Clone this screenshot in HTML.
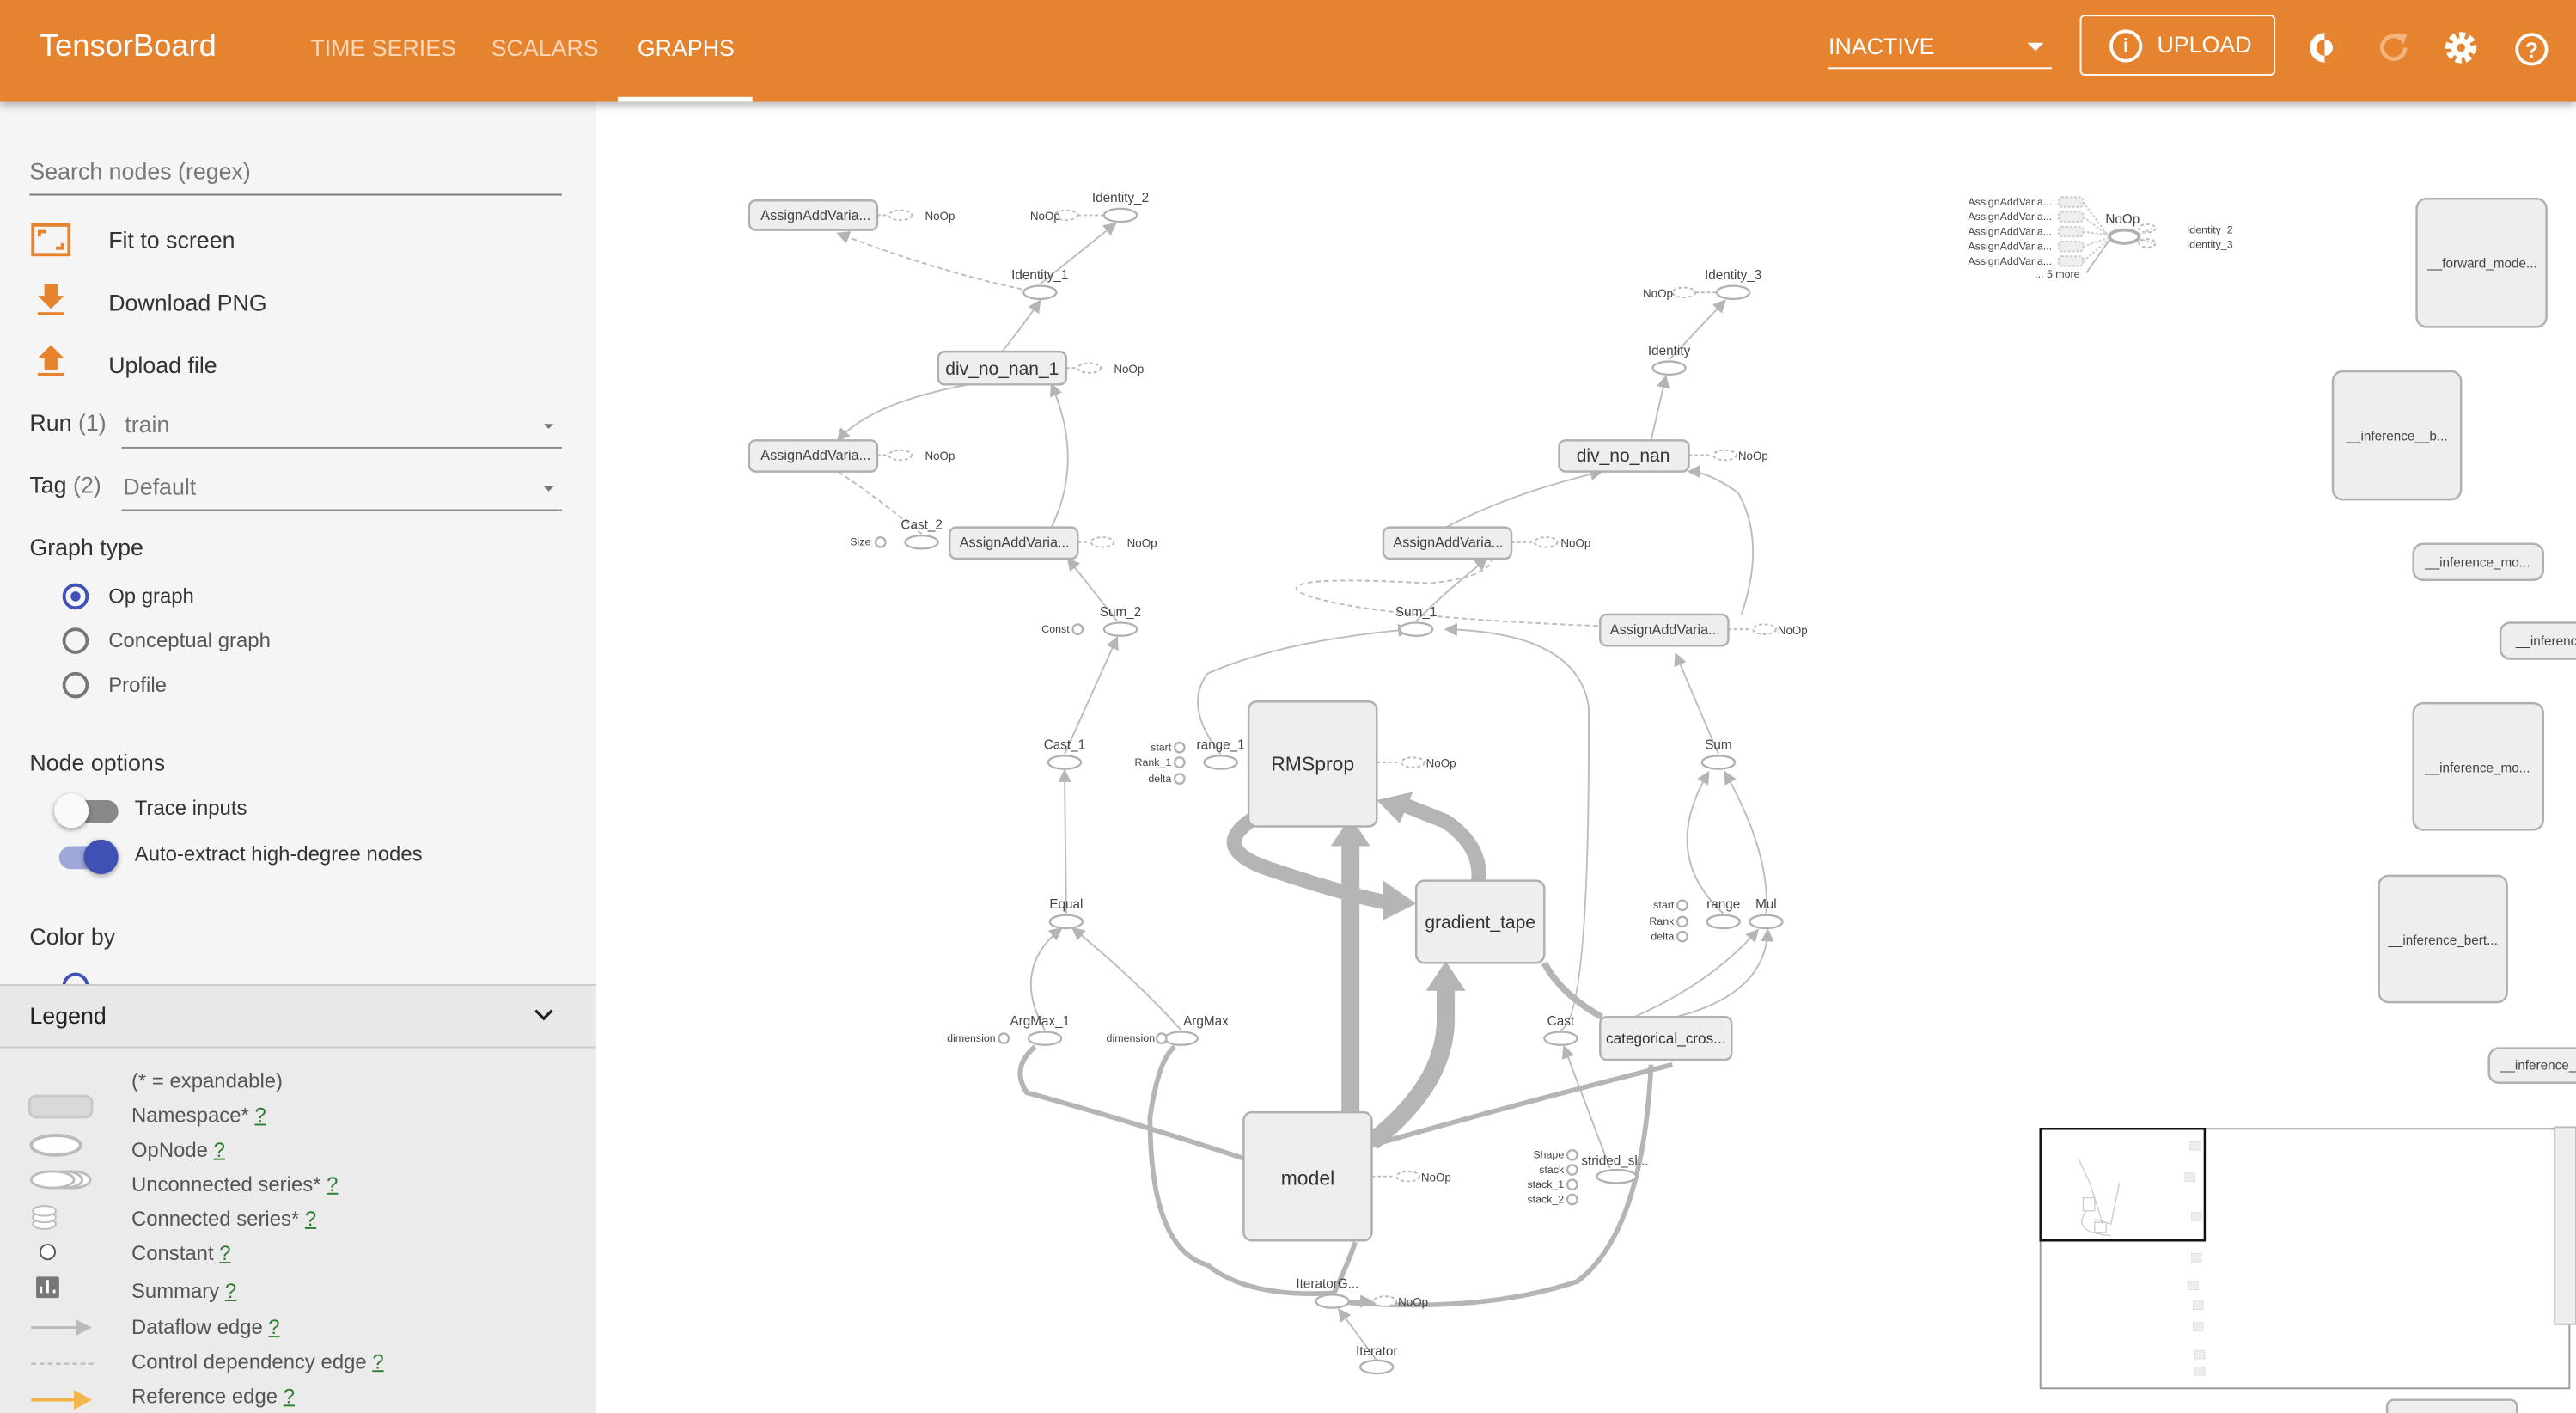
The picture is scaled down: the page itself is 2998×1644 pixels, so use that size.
<!DOCTYPE html>
<html><head><meta charset="utf-8">
<style>
*{margin:0;padding:0;box-sizing:border-box}
html,body{width:2998px;height:1644px;overflow:hidden;background:#fff;font-family:"Liberation Sans",sans-serif}
#p{position:absolute;left:0;top:0;width:1568px;height:860px;transform:scale(1.912,1.9116);transform-origin:0 0;overflow:hidden}
.a{position:absolute;white-space:nowrap}
#hdr{position:absolute;left:0;top:0;width:1568px;height:62px;background:#e5832f;box-shadow:0 2px 5px rgba(0,0,0,.3);z-index:3}
#side{position:absolute;left:0;top:62px;width:363px;height:798px;background:#f5f5f5}
.t{color:#333;font-size:14px}
.g{color:#777;font-size:14px}
.rad{position:absolute;width:16px;height:16px;border:2px solid #777;border-radius:50%}
.q{color:#2e7d32;text-decoration:underline}
</style></head><body><div id="p">
<div id="hdr">
<div class="a" style="left:24px;top:18px;font-size:19px;color:#fff">TensorBoard</div>
<div class="a" style="left:189px;top:21px;font-size:14px;color:#fbd8b9">TIME SERIES</div>
<div class="a" style="left:299px;top:21px;font-size:14px;color:#fbd8b9">SCALARS</div>
<div class="a" style="left:388px;top:21px;font-size:14px;color:#fff">GRAPHS</div>
<div class="a" style="left:376px;top:59px;width:82px;height:3px;background:#fff"></div>
<div class="a" style="left:1113px;top:20px;font-size:14px;color:#fff">INACTIVE</div>
<div class="a" style="left:1113px;top:41px;width:136px;height:1px;background:#fff"></div>
<div class="a" style="left:1234px;top:26px;border-left:5px solid transparent;border-right:5px solid transparent;border-top:5px solid #fff"></div>
<div class="a" style="left:1266px;top:9px;width:119px;height:37px;border:1px solid #fff;border-radius:3px"></div>
<div class="a" style="left:1284px;top:18px;width:20px;height:20px;border:2px solid #fff;border-radius:50%;color:#fff;font-size:12px;text-align:center;line-height:16px;font-weight:bold">i</div>
<div class="a" style="left:1313px;top:19px;font-size:14px;color:#fff">UPLOAD</div>
<svg class="a" style="left:1400px;top:14px" width="160" height="32" viewBox="0 0 160 32">
<circle cx="15" cy="15" r="9" fill="#fff"/><path d="M15 6a9 9 0 0 1 0 18z" fill="#e5832f"/><circle cx="15" cy="15" r="5" fill="#e5832f"/><path d="M15 10a5 5 0 0 1 0 10z" fill="#fff"/>
<path d="M64 15a7 7 0 1 1-2-5" fill="none" stroke="#f3b37c" stroke-width="2.5"/><path d="M59 6l6 1-2 6z" fill="#f3b37c"/>
<circle cx="98" cy="15" r="7" fill="none" stroke="#fff" stroke-width="5" stroke-dasharray="3.3 2"/><circle cx="98" cy="15" r="6" fill="#fff"/><circle cx="98" cy="15" r="2.5" fill="#e5832f"/>
<circle cx="141" cy="16" r="9" fill="none" stroke="#fff" stroke-width="2"/><text x="141" y="21" font-size="13" fill="#fff" text-anchor="middle" font-weight="bold" font-family="Liberation Sans">?</text>
</svg>
</div>
<div id="side">
<div class="a g" style="left:18px;top:34px">Search nodes (regex)</div>
<div class="a" style="left:18px;top:56px;width:324px;height:1px;background:#777"></div>
<svg class="a" style="left:18px;top:73px" width="28" height="160">
<rect x="2" y="2" width="22" height="18" fill="none" stroke="#e5832f" stroke-width="2"/><path d="M6 9V6h4M20 13v3h-4" fill="none" stroke="#e5832f" stroke-width="2"/>
<path d="M9 38h8v7h4l-8 8-8-8h4z" fill="#e5832f"/><rect x="5" y="55" width="16" height="2" fill="#e5832f"/>
<path d="M9 90h8v-7h4l-8-8-8 8h4z" fill="#e5832f"/><rect x="5" y="92" width="16" height="2" fill="#e5832f"/>
</svg>
<div class="a t" style="left:66px;top:76px">Fit to screen</div>
<div class="a t" style="left:66px;top:114px">Download PNG</div>
<div class="a t" style="left:66px;top:152px">Upload file</div>
<div class="a t" style="left:18px;top:187px">Run <span style="color:#777">(1)</span></div>
<div class="a g" style="left:76px;top:188px">train</div>
<div class="a" style="left:331px;top:196px;border-left:3px solid transparent;border-right:3px solid transparent;border-top:3px solid #777"></div>
<div class="a" style="left:74px;top:210px;width:268px;height:1px;background:#888"></div>
<div class="a t" style="left:18px;top:225px">Tag <span style="color:#777">(2)</span></div>
<div class="a g" style="left:75px;top:226px">Default</div>
<div class="a" style="left:331px;top:234px;border-left:3px solid transparent;border-right:3px solid transparent;border-top:3px solid #777"></div>
<div class="a" style="left:74px;top:248px;width:268px;height:1px;background:#888"></div>
<div class="a t" style="left:18px;top:263px">Graph type</div>
<div class="rad" style="left:38px;top:293px;border-color:#3f51b5"></div><div class="a" style="left:43px;top:298px;width:6px;height:6px;border-radius:50%;background:#3f51b5"></div>
<div class="a" style="left:66px;top:294px;font-size:12.5px;color:#333">Op graph</div>
<div class="rad" style="left:38px;top:320px"></div><div class="a" style="left:66px;top:321px;font-size:12.5px;color:#555">Conceptual graph</div>
<div class="rad" style="left:38px;top:347px"></div><div class="a" style="left:66px;top:348px;font-size:12.5px;color:#555">Profile</div>
<div class="a t" style="left:18px;top:394px">Node options</div>
<div class="a" style="left:36px;top:425px;width:36px;height:14px;border-radius:7px;background:#888"></div>
<div class="a" style="left:33px;top:421px;width:21px;height:21px;border-radius:50%;background:#fafafa;box-shadow:0 1px 3px rgba(0,0,0,.4)"></div>
<div class="a" style="left:82px;top:423px;font-size:12.5px;color:#333">Trace inputs</div>
<div class="a" style="left:36px;top:453px;width:36px;height:14px;border-radius:7px;background:#9fa8da"></div>
<div class="a" style="left:51px;top:449px;width:21px;height:21px;border-radius:50%;background:#3f51b5;box-shadow:0 1px 3px rgba(0,0,0,.4)"></div>
<div class="a" style="left:82px;top:451px;font-size:12.5px;color:#333">Auto-extract high-degree nodes</div>
<div class="a t" style="left:18px;top:500px">Color by</div>
<div class="rad" style="left:38px;top:530px;border-color:#3f51b5"></div>
<div class="a" style="left:0;top:537px;width:363px;height:261px;background:#ebebeb"></div>
<div class="a" style="left:0;top:537px;width:363px;height:39px;background:#e8e8e8;border-top:1px solid #ccc;border-bottom:1px solid #ccc"></div>
<div class="a" style="left:18px;top:548px;font-size:14px;color:#222">Legend</div>
<svg class="a" style="left:324px;top:551px" width="14" height="10"><path d="M2 2l5 5 5-5" fill="none" stroke="#222" stroke-width="1.7"/></svg>
<div class="a" style="left:80px;top:586px;font-size:12.5px;color:#555;line-height:21px">(* = expandable)<br>Namespace* <span class="q">?</span><br>OpNode <span class="q">?</span><br>Unconnected series* <span class="q">?</span><br>Connected series* <span class="q">?</span><br>Constant <span class="q">?</span><br><span style="line-height:24px">Summary <span class="q">?</span></span><br>Dataflow edge <span class="q">?</span><br>Control dependency edge <span class="q">?</span><br>Reference edge <span class="q">?</span></div>
<svg class="a" style="left:15px;top:600px" width="45" height="198">
<rect x="3" y="5" width="38" height="13" rx="4" fill="#d9d9d9" stroke="#c8c8c8" stroke-width="1.5"/>
<ellipse cx="19" cy="35" rx="15" ry="6" fill="#fff" stroke="#bbb" stroke-width="2"/>
<ellipse cx="29" cy="56" rx="11" ry="5" fill="#fff" stroke="#bbb" stroke-width="1.5"/><ellipse cx="24" cy="56" rx="11" ry="5" fill="#fff" stroke="#bbb" stroke-width="1.5"/><ellipse cx="17" cy="56" rx="13" ry="5" fill="#fff" stroke="#bbb" stroke-width="1.5"/>
<ellipse cx="12" cy="83" rx="7" ry="3" fill="#fff" stroke="#bbb"/><ellipse cx="12" cy="79" rx="7" ry="3" fill="#fff" stroke="#bbb"/><ellipse cx="12" cy="75" rx="7" ry="3" fill="#fff" stroke="#bbb"/>
<circle cx="14" cy="100" r="4.5" fill="#fff" stroke="#555"/>
<rect x="7" y="115" width="14" height="13" rx="1" fill="#777"/><path d="M10 125v-4M14 125v-8M18 125v-2" stroke="#fff" stroke-width="1.5"/>
<path d="M4 146h30" stroke="#bbb" stroke-width="1.5"/><path d="M31 141l10 5-10 5z" fill="#bbb"/>
<path d="M4 168h38" stroke="#bbb" stroke-width="1.2" stroke-dasharray="3 2"/>
<path d="M4 190h30" stroke="#f4b54a" stroke-width="2"/><path d="M30 184l11 6-11 6z" fill="#f4b54a"/>
</svg>
</div>
<svg class="a" style="left:0;top:0" width="1568" height="860" viewBox="0 0 1568 860" font-family="Liberation Sans">
<defs><marker id="ar" markerWidth="8" markerHeight="8" refX="7" refY="4" orient="auto" markerUnits="userSpaceOnUse"><path d="M0 0L8 4L0 8z" fill="#b5b5b5"/></marker></defs>
<g fill="none" stroke="#bcbcbc" stroke-width="1">
<path d="M633 173L679 136" marker-end="url(#ar)"/>
<path d="M622 176Q570 165 510 142" stroke-dasharray="3 2" marker-end="url(#ar)"/>
<path d="M610 214Q625 195 633 183" marker-end="url(#ar)"/>
<path d="M590 234Q530 245 510 268" marker-end="url(#ar)"/>
<path d="M640 321Q660 280 640 234" marker-end="url(#ar)"/>
<path d="M561 325Q530 300 510 287" stroke-dasharray="3 2"/>
<path d="M680 378L650 340" marker-end="url(#ar)"/>
<path d="M648 459L680 388" marker-end="url(#ar)"/>
<path d="M649 556L648 469" marker-end="url(#ar)"/>
<path d="M636 627Q615 590 646 565" marker-end="url(#ar)"/>
<path d="M719 627Q690 595 653 565" marker-end="url(#ar)"/>
<path d="M743 459Q720 430 735 410Q780 390 858 383" marker-end="url(#ar)"/>
<path d="M862 378Q880 360 905 340" marker-end="url(#ar)"/>
<path d="M880 321Q920 300 975 287" marker-end="url(#ar)"/>
<path d="M1005 268L1014 229" marker-end="url(#ar)"/>
<path d="M1016 219L1050 183" marker-end="url(#ar)"/>
<path d="M1060 374Q1075 330 1058 300Q1040 287 1028 287" marker-end="url(#ar)"/>
<path d="M1046 459L1020 398" marker-end="url(#ar)"/>
<path d="M1049 556Q1010 520 1040 470" marker-end="url(#ar)"/>
<path d="M1075 556Q1078 520 1050 470" marker-end="url(#ar)"/>
<path d="M990 621Q1040 600 1070 566" marker-end="url(#ar)"/>
<path d="M1020 619Q1075 605 1076 566" marker-end="url(#ar)"/>
<path d="M950 627Q968 620 967 430Q960 385 880 383" marker-end="url(#ar)"/>
<path d="M980 711L952 637" marker-end="url(#ar)"/>
<path d="M905 330Q920 350 870 355Q780 350 790 360Q820 375 974 381" stroke-dasharray="3 2"/>
</g>
<g fill="none" stroke="#bcbcbc" stroke-width="1" stroke-dasharray="2 1.5">
<path d="M534 131H540M656 131H675M649 224H655M534 277H540M656 330H663M838 464H852M835 716H849M920 330H933M1028 277H1042M1052 383H1066M1032 178H1046M820 792H835" marker-end="url(#ar)"/>
</g>
<g fill="none" stroke="#b5b5b5">
<path d="M822 677V510" stroke-width="11"/><path d="M810 515L822 497L834 515z" fill="#b5b5b5" stroke="none"/>
<path d="M835 695Q880 660 880 620V595" stroke-width="11"/><path d="M868 603L880 585L892 603z" fill="#b5b5b5" stroke="none"/>
<path d="M765 497Q735 515 770 528Q820 545 848 550" stroke-width="9"/><path d="M842 536L862 550L842 560z" fill="#b5b5b5" stroke="none"/>
<path d="M900 536Q902 515 880 500L855 490" stroke-width="9"/><path d="M860 482L838 487L852 501z" fill="#b5b5b5" stroke="none"/>
<path d="M757 705Q680 680 625 665Q615 650 630 637" stroke-width="3"/>
<path d="M812 787Q760 790 735 770Q700 760 700 680Q705 645 715 637" stroke-width="3"/>
<path d="M835 697Q930 670 1018 648" stroke-width="3"/>
<path d="M812 792Q900 800 960 780Q1000 750 1005 648" stroke-width="3"/>
<path d="M812 787Q820 770 825 756" stroke-width="3"/>
<path d="M940 586Q950 605 975 619" stroke-width="4"/>
</g>
<path d="M838 828L815 797" stroke="#bcbcbc" fill="none" marker-end="url(#ar)"/>
<g fill="#fff" stroke="#bcbcbc" stroke-width="1" stroke-dasharray="2 1.5">
<ellipse cx="548" cy="131" rx="7" ry="3"/><ellipse cx="649" cy="131" rx="7" ry="3"/><ellipse cx="663" cy="224" rx="7" ry="3"/>
<ellipse cx="548" cy="277" rx="7" ry="3"/><ellipse cx="671" cy="330" rx="7" ry="3"/><ellipse cx="860" cy="464" rx="7" ry="3"/>
<ellipse cx="857" cy="716" rx="7" ry="3"/><ellipse cx="843" cy="792" rx="7" ry="3"/><ellipse cx="941" cy="330" rx="7" ry="3"/>
<ellipse cx="1050" cy="277" rx="7" ry="3"/><ellipse cx="1074" cy="383" rx="7" ry="3"/><ellipse cx="1025" cy="178" rx="7" ry="3"/>
<ellipse cx="1307" cy="139" rx="5" ry="2.5"/><ellipse cx="1307" cy="148" rx="5" ry="2.5"/>
</g>
<g fill="#fff" stroke="#b0b0b0" stroke-width="1.2">
<ellipse cx="682" cy="131" rx="10" ry="4"/><ellipse cx="633" cy="178" rx="10" ry="4"/><ellipse cx="561" cy="330" rx="10" ry="4"/>
<ellipse cx="682" cy="383" rx="10" ry="4"/><ellipse cx="648" cy="464" rx="10" ry="4"/><ellipse cx="649" cy="561" rx="10" ry="4"/>
<ellipse cx="636" cy="632" rx="10" ry="4"/><ellipse cx="719" cy="632" rx="10" ry="4"/><ellipse cx="743" cy="464" rx="10" ry="4"/>
<ellipse cx="811" cy="792" rx="10" ry="4"/><ellipse cx="838" cy="832" rx="10" ry="4"/><ellipse cx="862" cy="383" rx="10" ry="4"/>
<ellipse cx="1016" cy="224" rx="10" ry="4"/><ellipse cx="1055" cy="178" rx="10" ry="4"/><ellipse cx="1046" cy="464" rx="10" ry="4"/>
<ellipse cx="1049" cy="561" rx="10" ry="4"/><ellipse cx="1075" cy="561" rx="10" ry="4"/><ellipse cx="950" cy="632" rx="10" ry="4"/>
<ellipse cx="984" cy="716" rx="12" ry="4"/><ellipse cx="1293" cy="144" rx="9" ry="4" stroke-width="2"/>
<circle cx="536" cy="330" r="3"/><circle cx="656" cy="383" r="3"/><circle cx="611" cy="632" r="3"/><circle cx="707" cy="632" r="3"/>
<circle cx="718" cy="455" r="3"/><circle cx="718" cy="464" r="3"/><circle cx="718" cy="474" r="3"/>
<circle cx="1024" cy="551" r="3"/><circle cx="1024" cy="561" r="3"/><circle cx="1024" cy="570" r="3"/>
<circle cx="957" cy="703" r="3"/><circle cx="957" cy="712" r="3"/><circle cx="957" cy="721" r="3"/><circle cx="957" cy="730" r="3"/>
</g>
<g fill="#eee" stroke="#b0b0b0" stroke-width="1.3">
<rect x="456" y="122" width="78" height="18" rx="4"/><rect x="571" y="214" width="78" height="20" rx="4"/><rect x="456" y="268" width="78" height="19" rx="4"/>
<rect x="578" y="321" width="78" height="19" rx="4"/><rect x="842" y="321" width="78" height="19" rx="4"/><rect x="949" y="268" width="79" height="19" rx="4"/>
<rect x="974" y="374" width="78" height="19" rx="4"/><rect x="974" y="619" width="80" height="26" rx="4"/>
<rect x="760" y="427" width="78" height="76" rx="5"/><rect x="862" y="536" width="78" height="50" rx="5"/><rect x="757" y="677" width="78" height="78" rx="5"/>
<rect x="1471" y="121" width="79" height="78" rx="6"/><rect x="1420" y="226" width="78" height="78" rx="6"/><rect x="1469" y="331" width="79" height="22" rx="6"/>
<rect x="1522" y="379" width="60" height="22" rx="6"/><rect x="1469" y="428" width="79" height="77" rx="6"/><rect x="1448" y="533" width="78" height="77" rx="6"/>
<rect x="1515" y="638" width="60" height="21" rx="6"/><rect x="1453" y="852" width="79" height="20" rx="4"/>
</g>
<g fill="#eee" stroke="#ccc" stroke-dasharray="1.5 1"><rect x="1253" y="120" width="15" height="6" rx="2"/><rect x="1253" y="129" width="15" height="6" rx="2"/><rect x="1253" y="138" width="15" height="6" rx="2"/><rect x="1253" y="147" width="15" height="6" rx="2"/><rect x="1253" y="156" width="15" height="6" rx="2"/></g>
<g stroke="#ccc" stroke-dasharray="1.5 1" fill="none"><path d="M1268 123L1283 143M1268 132L1283 143M1268 141L1283 143M1268 150L1283 145M1268 159L1283 146M1302 143L1310 139M1302 145L1310 148"/></g>
<path d="M1270 166L1284 146" stroke="#bbb" fill="none"/>
<g font-size="8" fill="#444">
<text x="463" y="134" font-size="8.5">AssignAddVaria...</text><text x="463" y="280" font-size="8.5">AssignAddVaria...</text>
<text x="584" y="333" font-size="8.5">AssignAddVaria...</text><text x="848" y="333" font-size="8.5">AssignAddVaria...</text><text x="980" y="386" font-size="8.5">AssignAddVaria...</text>
<text x="563" y="134" font-size="7">NoOp</text><text x="627" y="134" font-size="7">NoOp</text><text x="678" y="227" font-size="7">NoOp</text>
<text x="563" y="280" font-size="7">NoOp</text><text x="686" y="333" font-size="7">NoOp</text><text x="868" y="467" font-size="7">NoOp</text>
<text x="865" y="719" font-size="7">NoOp</text><text x="851" y="795" font-size="7">NoOp</text><text x="950" y="333" font-size="7">NoOp</text>
<text x="1058" y="280" font-size="7">NoOp</text><text x="1082" y="386" font-size="7">NoOp</text><text x="1000" y="181" font-size="7">NoOp</text>
<g text-anchor="middle"><text x="682" y="123">Identity_2</text><text x="633" y="170">Identity_1</text><text x="561" y="322">Cast_2</text><text x="682" y="375">Sum_2</text>
<text x="648" y="456">Cast_1</text><text x="649" y="553">Equal</text><text x="633" y="624">ArgMax_1</text><text x="734" y="624">ArgMax</text><text x="743" y="456">range_1</text>
<text x="808" y="784">IteratorG...</text><text x="838" y="825">Iterator</text><text x="862" y="375">Sum_1</text><text x="1016" y="216">Identity</text><text x="1055" y="170">Identity_3</text>
<text x="1046" y="456">Sum</text><text x="1049" y="553">range</text><text x="1075" y="553">Mul</text><text x="950" y="624">Cast</text><text x="983" y="709">strided_sl...</text>
<text x="1292" y="136" font-size="8">NoOp</text></g>
<g text-anchor="end" font-size="6.5"><text x="530" y="332">Size</text><text x="651" y="385">Const</text><text x="606" y="634">dimension</text><text x="703" y="634">dimension</text>
<text x="713" y="457">start</text><text x="713" y="466">Rank_1</text><text x="713" y="476">delta</text>
<text x="1019" y="553">start</text><text x="1019" y="563">Rank</text><text x="1019" y="572">delta</text>
<text x="952" y="705">Shape</text><text x="952" y="714">stack</text><text x="952" y="723">stack_1</text><text x="952" y="732">stack_2</text>
<text x="1249" y="125">AssignAddVaria...</text><text x="1249" y="134">AssignAddVaria...</text><text x="1249" y="143">AssignAddVaria...</text><text x="1249" y="152">AssignAddVaria...</text><text x="1249" y="161">AssignAddVaria...</text><text x="1266" y="169">... 5 more</text></g>
<text x="1331" y="142" font-size="6.5">Identity_2</text><text x="1331" y="151" font-size="6.5">Identity_3</text>
<g text-anchor="middle" font-size="11" fill="#333"><text x="610" y="228">div_no_nan_1</text><text x="988" y="281">div_no_nan</text><text x="799" y="469" font-size="12">RMSprop</text>
<text x="901" y="565">gradient_tape</text><text x="796" y="721" font-size="12">model</text><text x="1014" y="635" font-size="9">categorical_cros...</text></g>
<g text-anchor="middle" font-size="8"><text x="1511" y="163">__forward_mode...</text><text x="1459" y="268">__inference__b...</text><text x="1508" y="345">__inference_mo...</text>
<text x="1550" y="393">__inferenc</text><text x="1508" y="470">__inference_mo...</text><text x="1487" y="575">__inference_bert...</text><text x="1545" y="651">__inference_</text></g>
</g>
<rect x="1242" y="687" width="322" height="158" fill="#fff" stroke="#999" stroke-width="1"/>
<rect x="1555" y="686" width="13" height="120" fill="#eee" stroke="#bbb"/>
<g fill="#eee" stroke="#ddd" stroke-width=".5"><rect x="1333" y="695" width="6" height="5"/><rect x="1330" y="714" width="6" height="5"/><rect x="1334" y="738" width="6" height="5"/><rect x="1334" y="763" width="6" height="5"/><rect x="1332" y="780" width="6" height="5"/><rect x="1335" y="792" width="6" height="5"/><rect x="1335" y="805" width="6" height="5"/><rect x="1336" y="822" width="6" height="5"/><rect x="1336" y="832" width="6" height="5"/></g>
<g stroke="#ccc" fill="none" stroke-width=".7"><path d="M1265 705L1272 720L1280 745M1290 720L1285 745L1275 742M1270 737Q1260 750 1285 752"/><rect x="1268" y="729" width="7" height="8"/><rect x="1275" y="744" width="7" height="6"/></g>
<rect x="1242" y="687" width="100" height="68" fill="none" stroke="#111" stroke-width="1.3"/>
</svg>
</div></body></html>
